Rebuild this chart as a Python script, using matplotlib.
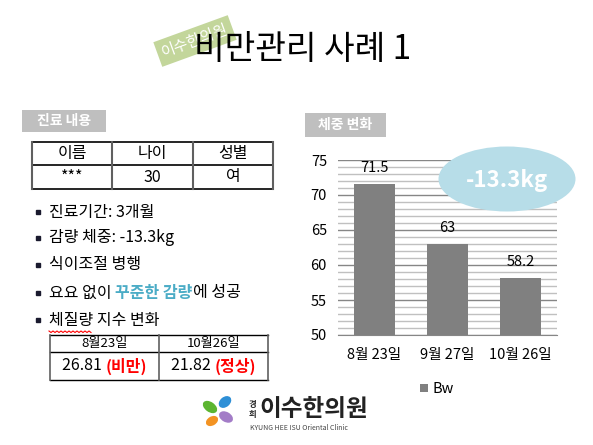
import numpy as np
import matplotlib
matplotlib.use("Agg")
import matplotlib.pyplot as plt
from matplotlib.patches import Rectangle, Ellipse
from matplotlib.ticker import MultipleLocator

plt.rcParams['font.family'] = ['Noto Sans CJK KR', 'DejaVu Sans']

# chart data
dates = ['8월 23일', '9월 27일', '10월 26일']
weights = [71.5, 63, 58.2]
series_name = 'Bw'
change_label = '-13.3kg'

# patient info table
info_header = ['이름', '나이', '성별']
info_row = ['***', '30', '여']

# BMI table
bmi_dates = ['8월23일', '10월26일']
bmi_values = ['26.81', '21.82']
bmi_status = ['(비만)', '(정상)']

bullets = ['진료기간: 3개월', '감량 체중: -13.3kg', '식이조절 병행', None, '체질량 지수 변화']

W, H = 593, 445
fig = plt.figure(figsize=(W / 100, H / 100), dpi=100)
fig.patch.set_facecolor('white')

# ---- bar chart ----
ax = fig.add_axes([338 / W, 1 - 335 / H, 219 / W, 175 / H], zorder=1)
x = np.arange(len(dates))
bars = ax.bar(x, weights, width=0.575, color='#808080', zorder=3)
ax.set_xlim(-0.5, len(dates) - 0.5)
ax.set_ylim(50, 75)
ax.yaxis.set_major_locator(MultipleLocator(5))
ax.yaxis.set_minor_locator(MultipleLocator(1))
ax.grid(axis='y', which='major', color='#868686', lw=1.0, zorder=1)
ax.grid(axis='y', which='minor', color='#c0c0c0', lw=1.0, zorder=1)
for s in ['top', 'right', 'left']:
    ax.spines[s].set_visible(False)
ax.spines['bottom'].set_color('#868686')
ax.tick_params(axis='both', which='both', length=0, labelsize=10.5)
ax.tick_params(axis='y', pad=8)
ax.tick_params(axis='x', pad=9)
ax.set_xticks(x)
ax.set_xticklabels(dates)
for b, v in zip(bars, weights):
    ax.text(b.get_x() + b.get_width() / 2, v + 2.3, f'{v:g}', ha='center', va='center', fontsize=10.5)

# ---- overlay in pixel coords ----
ov = fig.add_axes([0, 0, 1, 1], zorder=2)
ov.set_xlim(0, W)
ov.set_ylim(H, 0)
ov.axis('off')

# stamp behind title
ov.text(195, 41, '이수한의원', ha='center', va='center', fontsize=11, color='white',
        rotation=20, zorder=1, bbox=dict(boxstyle='square,pad=0.3', fc='#c3d69b', ec='none'))
ov.text(303, 50, '비만관리 사례 1', ha='center', va='center', fontsize=24, zorder=3)


def section_box(x0, y0, x1, y1, label):
    ov.add_patch(Rectangle((x0, y0), x1 - x0, y1 - y0, fc='#bfbfbf', ec='none'))
    ov.text((x0 + x1) / 2, (y0 + y1) / 2, label, ha='center', va='center',
            fontsize=10, color='white', fontweight='bold')


section_box(22, 110, 106, 132, '진료 내용')
section_box(305, 113, 386, 137, '체중 변화')

# patient info table
cols = [32, 112, 193, 273]
rows = [142, 165, 189]
for y in rows:
    ov.plot([cols[0], cols[-1]], [y, y], color='black', lw=1.2)
for xc in cols:
    ov.plot([xc, xc], [rows[0], rows[-1]], color='#606060', lw=1.5)
for i in range(3):
    cx = (cols[i] + cols[i + 1]) / 2
    ov.text(cx, (rows[0] + rows[1]) / 2, info_header[i], ha='center', va='center', fontsize=11.5)
    ov.text(cx, (rows[1] + rows[2]) / 2, info_row[i], ha='center', va='center', fontsize=11.5)

# bullets
fig.canvas.draw()
renderer = fig.canvas.get_renderer()
bullet_y = [212, 238, 265, 293, 320]
for y, t in zip(bullet_y, bullets):
    ov.plot([38], [y], marker='s', ms=3.5, color='#1a1a2e')
    if t is not None:
        ov.text(49, y, t, ha='left', va='center', fontsize=11.5)

# mixed colour line
xpos = 49
for part, col, wt in [('요요 없이 ', 'black', 'normal'), ('꾸준한 감량', '#4bacc6', 'bold'),
                      ('에 성공', 'black', 'normal')]:
    t = ov.text(xpos, bullet_y[3], part, ha='left', va='center', fontsize=11.5, color=col, fontweight=wt)
    bb = t.get_window_extent(renderer)
    xpos += bb.width

# spell-check squiggle under 체질량
sq_x = np.arange(49, 92, 2)
sq_y = 331 + np.where(np.arange(len(sq_x)) % 2 == 0, 0, 1.5)
ov.plot(sq_x, sq_y, color='red', lw=0.8)

# BMI table
bcols = [50, 159, 268]
brows = [335, 352, 380]
for y in brows:
    ov.plot([bcols[0], bcols[-1]], [y, y], color='black', lw=1.0)
for xc in bcols:
    ov.plot([xc, xc], [brows[0], brows[-1]], color='#606060', lw=1.2)
for i in range(2):
    cx = (bcols[i] + bcols[i + 1]) / 2
    ov.text(cx, (brows[0] + brows[1]) / 2, bmi_dates[i], ha='center', va='center', fontsize=9.5)
    t1 = ov.text(0, 0, bmi_values[i] + ' ', fontsize=11.5)
    t2 = ov.text(0, 0, bmi_status[i], fontsize=11.5, fontweight='bold')
    w1 = t1.get_window_extent(renderer).width
    w2 = t2.get_window_extent(renderer).width
    x0 = cx - (w1 + w2) / 2
    cy = (brows[1] + brows[2]) / 2
    t1.set_position((x0, cy)); t1.set_va('center')
    t2.set_position((x0 + w1, cy)); t2.set_va('center'); t2.set_color('#ff0000')

# weight change bubble
ov.add_patch(Ellipse((507, 179), 137, 65, fc='#b7dde8', ec='none'))
ov.text(507, 180, change_label, ha='center', va='center', fontsize=16, color='white', fontweight='bold')

# legend
ov.add_patch(Rectangle((420, 384), 8, 8, fc='#808080', ec='none'))
ov.text(433, 389, series_name, ha='left', va='center', fontsize=10.5)

# logo
for (cx, cy, w, h, ang, c) in [(210, 407, 16, 10, 35, '#5cb531'), (225, 402, 14, 10, -40, '#2e8fd6'),
                               (212, 421, 13, 9, -30, '#f39323'), (226, 417, 15, 10, 30, '#a37cc7')]:
    ov.add_patch(Ellipse((cx, cy), w, h, angle=ang, fc=c, ec='none'))
ov.text(252, 404, '경', ha='center', va='center', fontsize=6, fontweight='bold', color='#222222')
ov.text(252, 414, '희', ha='center', va='center', fontsize=6, fontweight='bold', color='#222222')
ov.text(259, 409, '이수한의원', ha='left', va='center', fontsize=17, fontweight='bold', color='#222222')
ov.text(250, 428, 'KYUNG HEE ISU Oriental Clinic', ha='left', va='center', fontsize=5, color='#444444')

fig.savefig('out.png', dpi=100)
